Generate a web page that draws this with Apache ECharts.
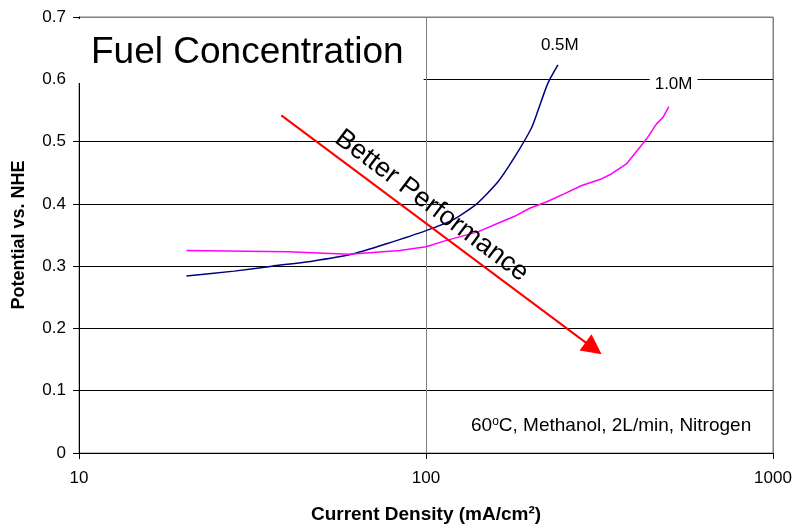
<!DOCTYPE html>
<html><head><meta charset="utf-8">
<script src="https://cdn.jsdelivr.net/npm/echarts@6/dist/echarts.min.js"></script>
<style>html,body{margin:0;padding:0;background:#fff}#c{width:796px;height:529px}</style>
</head><body><div id="c"></div>
<script>
// Data
const seriesNames = ['0.5M', '1.0M'];
const currentDensity05 = [20.4, 28, 36, 47, 61, 77, 100, 121, 140, 161, 180, 201, 210, 220, 226, 240];
const potential05 = [0.284, 0.292, 0.300, 0.308, 0.319, 0.336, 0.357, 0.376, 0.400, 0.435, 0.475, 0.521, 0.549, 0.581, 0.597, 0.623];
const currentDensity10 = [20.4, 40, 60, 84, 100, 114, 141, 160, 180, 199, 222, 250, 280, 320, 342, 378, 432, 461, 482, 501];
const potential10 = [0.325, 0.323, 0.319, 0.325, 0.331, 0.341, 0.355, 0.368, 0.380, 0.393, 0.403, 0.416, 0.429, 0.440, 0.448, 0.464, 0.504, 0.528, 0.539, 0.556];
const xTickLabels = ['10', '100', '1000'];
const yTickLabels = ['0', '0.1', '0.2', '0.3', '0.4', '0.5', '0.6', '0.7'];
const titleText = 'Fuel Concentration';
const arrowText = 'Better Performance';
const conditionText = '60{sup|o}C, Methanol, 2L/min, Nitrogen';

const pairs = (xs, ys) => xs.map((x, i) => [x, ys[i]]);
const FONT = '"Liberation Sans", Arial, sans-serif';

const chart = echarts.init(document.getElementById('c'), null, {renderer: 'canvas'});
chart.setOption({
  animation: false,
  backgroundColor: '#fff',
  title: {
    text: titleText,
    left: 72, top: 19,
    backgroundColor: '#fff',
    padding: [15, 20, 12, 19],
    textStyle: {fontFamily: FONT, fontSize: 37, fontWeight: 'normal', color: '#000', lineHeight: 37}
  },
  grid: {left: 79, right: 23, top: 17, bottom: 74, show: true, borderColor: '#808080', borderWidth: 1, backgroundColor: 'transparent'},
  xAxis: {
    type: 'log', logBase: 10, min: 10, max: 1000,
    name: 'Current Density (mA/cm²)', nameLocation: 'middle', nameGap: 52,
    nameTextStyle: {fontFamily: FONT, fontSize: 19, fontWeight: 'bold', color: '#000'},
    axisLine: {show: true, lineStyle: {color: '#000', width: 1}},
    axisTick: {show: true, inside: false, length: 6, lineStyle: {color: '#000'}},
    axisLabel: {fontFamily: FONT, fontSize: 17, color: '#000', margin: 17,
      formatter: v => xTickLabels[Math.round(Math.log10(v)) - 1]},
    splitLine: {show: true, lineStyle: {color: '#808080', width: 1}},
    minorTick: {show: false}, minorSplitLine: {show: false}
  },
  yAxis: {
    type: 'value', min: 0, max: 0.7, interval: 0.1,
    name: 'Potential vs. NHE', nameLocation: 'middle', nameGap: 51,
    nameTextStyle: {fontFamily: FONT, fontSize: 18, fontWeight: 'bold', color: '#000'},
    axisLine: {show: true, lineStyle: {color: '#000', width: 1}},
    axisTick: {show: true, inside: false, length: 6, lineStyle: {color: '#000'}},
    axisLabel: {fontFamily: FONT, fontSize: 17, color: '#000', margin: 13,
      formatter: v => yTickLabels[Math.round(v * 10)]},
    splitLine: {show: true, lineStyle: {color: ['#000', '#000', '#000', '#000', '#000', '#000', '#000', '#808080'], width: 1}}
  },
  series: [
    {
      name: seriesNames[0], type: 'line', data: pairs(currentDensity05, potential05),
      showSymbol: false, smooth: 0.2, silent: true,
      lineStyle: {color: '#000080', width: 1.5}, itemStyle: {color: '#000080'},
      markPoint: {
        silent: true, symbol: 'circle', symbolSize: 0, animation: false,
        label: {show: true, position: 'inside', color: '#000', fontFamily: FONT, fontSize: 17},
        data: [{coord: [243, 0.654], label: {formatter: seriesNames[0]}}]
      },
      markLine: {
        silent: true, animation: false,
        symbol: ['none', 'triangle'], symbolSize: 20,
        lineStyle: {color: '#ff0000', width: 2, type: 'solid'},
        itemStyle: {color: '#ff0000'},
        label: {show: false},
        emphasis: {disabled: true},
        data: [[{coord: [38.3, 0.542]}, {coord: [304, 0.168]}]]
      }
    },
    {
      name: seriesNames[1], type: 'line', data: pairs(currentDensity10, potential10),
      showSymbol: false, smooth: false, silent: true,
      lineStyle: {color: '#ff00ff', width: 1.5}, itemStyle: {color: '#ff00ff'},
      markPoint: {
        silent: true, symbol: 'circle', symbolSize: 0, animation: false,
        label: {show: true, position: 'inside', color: '#000', fontFamily: FONT, fontSize: 17},
        data: [
          {coord: [517, 0.592], label: {formatter: seriesNames[1], backgroundColor: '#fff', padding: [1, 5]}},
          {coord: [103.8, 0.397], label: {formatter: arrowText, fontSize: 27, rotate: -36.9}}
        ]
      }
    }
  ],
  graphic: [
    {
      type: 'text', left: 471, top: 416, silent: true,
      style: {
        text: conditionText, fill: '#000', font: '19px ' + FONT,
        rich: {sup: {fontSize: 12, fontFamily: FONT, verticalAlign: 'top', fill: '#000'}}
      }
    }
  ]
});
</script>
</body></html>
